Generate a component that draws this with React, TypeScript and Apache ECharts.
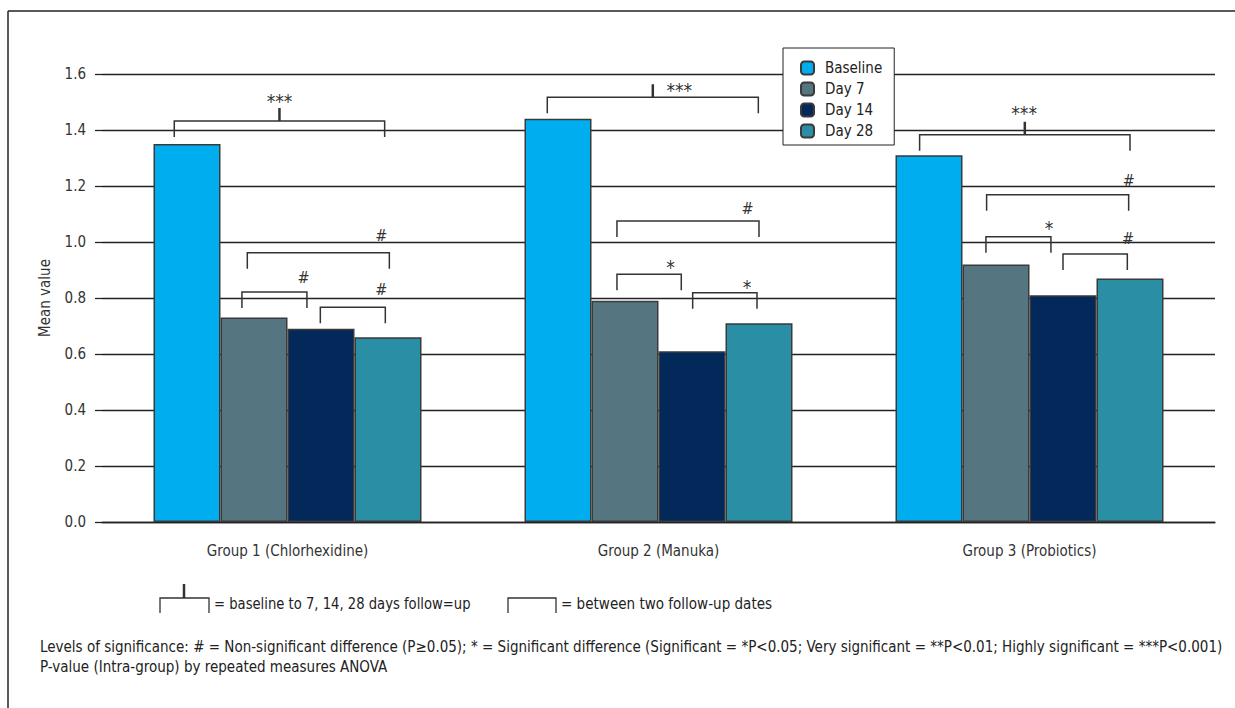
import React, { useEffect, useRef } from "react";
import * as echarts from "echarts";

const GROUPS = ["Group 1 (Chlorhexidine)", "Group 2 (Manuka)", "Group 3 (Probiotics)"];
const SERIES_NAMES = ["Baseline", "Day 7", "Day 14", "Day 28"];
const BASELINE = [1.35, 1.44, 1.31];
const DAY7 = [0.73, 0.79, 0.92];
const DAY14 = [0.69, 0.61, 0.81];
const DAY28 = [0.66, 0.71, 0.87];
const COLORS = ["#00aeef", "#557580", "#03295a", "#2a8fa5"];

// significance brackets: group, from/to bar slot, height (value), mark, kind, label slot/value
const BR_GROUP = [0, 0, 0, 0, 1, 1, 1, 1, 2, 2, 2, 2];
const BR_FROM = [-0.19, 0.9, 0.82, 1.99, -0.16, 0.88, 0.88, 2.01, -0.14, 0.86, 0.85, 2.0];
const BR_TO = [2.95, 3.02, 1.79, 2.96, 2.99, 3.0, 1.84, 2.97, 3.0, 2.98, 1.82, 2.96];
const BR_Y = [1.432, 0.962, 0.821, 0.767, 1.517, 1.075, 0.885, 0.819, 1.383, 1.169, 1.019, 0.957];
const BR_MARK = ["***", "#", "#", "#", "***", "#", "*", "*", "***", "#", "*", "#"];
const BR_KIND = ["base", "pair", "pair", "pair", "base", "pair", "pair", "pair", "base", "pair", "pair", "pair"];
const BR_LABEL_X = [1.38, 2.9, 1.74, 2.9, 1.81, 2.83, 1.68, 2.82, 1.42, 2.98, 1.79, 2.97];
const BR_LABEL_Y = [1.522, 1.025, 0.875, 0.829, 1.561, 1.121, 0.929, 0.857, 1.479, 1.221, 1.068, 1.014];

const FONT = "'Liberation Sans Narrow', 'DejaVu Sans Condensed', 'Roboto Condensed', sans-serif";
const BAR_W = 67;
const INK = "#333";

export default function App() {
  const ref = useRef<HTMLDivElement>(null);
  useEffect(() => {
    if (!ref.current) return;
    const chart = echarts.init(ref.current, null, { renderer: "svg" });
    const values = [BASELINE, DAY7, DAY14, DAY28];

    const renderBracket = (params: any, api: any) => {
      const i = params.dataIndex;
      const g = BR_GROUP[i];
      const c = api.coord([g, BR_Y[i]]);
      const cx = c[0];
      const y = c[1];
      const xOf = (slot: number) => cx + (slot - 1.5) * BAR_W;
      const x1 = xOf(BR_FROM[i]);
      const x2 = xOf(BR_TO[i]);
      const leg = 16;
      const children: any[] = [
        { type: "polyline", shape: { points: [[x1, y + leg], [x1, y], [x2, y], [x2, y + leg]] }, style: { stroke: INK, lineWidth: 1.5, fill: "none" } },
      ];
      if (BR_KIND[i] === "base") {
        const mx = (x1 + x2) / 2;
        children.push({ type: "line", shape: { x1: mx, y1: y, x2: mx, y2: y - 13 }, style: { stroke: INK, lineWidth: 2.5 } });
      }
      const mark = BR_MARK[i];
      const isStar = mark.indexOf("*") >= 0;
      const ly = api.coord([g, BR_LABEL_Y[i]])[1] + (isStar ? 5 : 0);
      children.push({
        type: "text",
        x: xOf(BR_LABEL_X[i]),
        y: ly,
        style: { text: mark, fill: INK, font: `${isStar ? 19 : 16}px ${FONT}`, align: "center", verticalAlign: "middle" },
      });
      return { type: "group", children };
    };

    const bracketData = BR_GROUP.map((g, i) => [g, BR_Y[i]]);

    chart.setOption({
      animation: false,
      backgroundColor: "#fff",
      textStyle: { fontFamily: FONT },
      grid: { left: 102, right: 20, top: 74, bottom: 186, containLabel: false },
      legend: {
        data: SERIES_NAMES,
        orient: "vertical",
        left: 783,
        top: 48,
        itemWidth: 13,
        itemHeight: 13,
        itemGap: 5,
        padding: [12, 12, 6, 17],
        borderColor: "#222",
        borderWidth: 1,
        backgroundColor: "#fff",
        textStyle: { fontSize: 15, color: "#222", fontFamily: FONT, lineHeight: 16, padding: [0, 0, 0, 6] },
        z: 10,
      },
      xAxis: {
        type: "category",
        data: GROUPS,
        axisTick: { show: false },
        axisLine: { show: true, lineStyle: { color: "#222", width: 1.3 } },
        axisLabel: { fontSize: 15, color: INK, margin: 21, fontFamily: FONT },
      },
      yAxis: {
        type: "value",
        min: 0,
        max: 1.6,
        interval: 0.2,
        name: "Mean value",
        nameLocation: "middle",
        nameGap: 50,
        nameRotate: 90,
        nameTextStyle: { fontSize: 15, color: INK, fontFamily: FONT },
        axisLine: { show: false },
        axisTick: { show: true, length: 7, lineStyle: { color: "#222", width: 1.3 } },
        axisLabel: { fontSize: 15, color: INK, margin: 16, fontFamily: FONT, formatter: (v: number) => v.toFixed(1) },
        splitLine: { show: true, lineStyle: { color: "#222", width: 1.3 } },
      },
      series: [
        ...SERIES_NAMES.map((name, k) => ({
          name,
          type: "bar",
          data: values[k],
          barWidth: BAR_W,
          barGap: "0%",
          itemStyle: { color: COLORS[k], borderColor: "#3a3a3a", borderWidth: 1.5 },
          z: 3,
        })),
        {
          name: "brackets",
          type: "custom",
          data: bracketData,
          encode: { x: 0, y: 1 },
          renderItem: renderBracket,
          itemStyle: { color: INK },
          silent: true,
          z: 5,
        },
      ],
      graphic: [
        { type: "line", shape: { x1: 8, y1: 11, x2: 1235, y2: 11 }, style: { stroke: "#222", lineWidth: 1.5 } },
        { type: "line", shape: { x1: 8, y1: 11, x2: 8, y2: 708 }, style: { stroke: "#222", lineWidth: 1.5 } },
        // legend of bracket symbols
        { type: "polyline", shape: { points: [[160, 613], [160, 598], [209, 598], [209, 613]] }, style: { stroke: INK, lineWidth: 1.3, fill: "none" } },
        { type: "line", shape: { x1: 184, y1: 598, x2: 184, y2: 584 }, style: { stroke: INK, lineWidth: 2.5 } },
        { type: "text", x: 214, y: 604, scaleX: 0.915, style: { text: "= baseline to 7, 14, 28 days follow=up", font: `16px ${FONT}`, fill: "#222", verticalAlign: "middle" } },
        { type: "polyline", shape: { points: [[508, 613], [508, 598], [556, 598], [556, 613]] }, style: { stroke: INK, lineWidth: 1.3, fill: "none" } },
        { type: "text", x: 561, y: 604, scaleX: 0.94, style: { text: "= between two follow-up dates", font: `16px ${FONT}`, fill: "#222", verticalAlign: "middle" } },
        { type: "text", x: 40, y: 647, style: { text: "Levels of significance: # = Non-significant difference (P≥0.05); * = Significant difference (Significant = *P<0.05; Very significant = **P<0.01; Highly significant = ***P<0.001)", font: `15px ${FONT}`, fill: "#222", verticalAlign: "middle" } },
        { type: "text", x: 40, y: 667, style: { text: "P-value (Intra-group) by repeated measures ANOVA", font: `15px ${FONT}`, fill: "#222", verticalAlign: "middle" } },
      ],
    });
    return () => chart.dispose();
  }, []);
  return <div ref={ref} style={{ position: "fixed", left: 0, top: 0, width: 1235, height: 708 }} />;
}
